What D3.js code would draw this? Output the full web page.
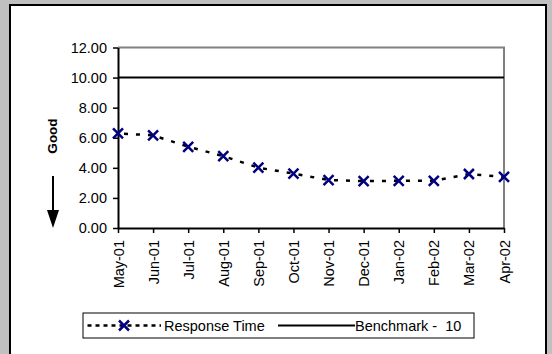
<!DOCTYPE html>
<html><head><meta charset="utf-8">
<script src="https://cdn.jsdelivr.net/npm/d3@7"></script>
<style>
html,body{margin:0;padding:0;background:#c0c0c0;}
svg{display:block;font-family:Arial,"Liberation Sans",sans-serif;}
</style></head>
<body>
<svg id="chart" width="552" height="354"></svg>
<script>
const months = ["May-01","Jun-01","Jul-01","Aug-01","Sep-01","Oct-01","Nov-01","Dec-01","Jan-02","Feb-02","Mar-02","Apr-02"];
const responseTime = [6.29,6.16,5.40,4.78,4.01,3.62,3.19,3.12,3.14,3.14,3.59,3.40];
const benchmark = [10,10,10,10,10,10,10,10,10,10,10,10];
const yTicks = [0,2,4,6,8,10,12];
const seriesNames = ["Response Time","Benchmark -  10"];
const axisTitle = "Good";

const FONT = "Arial, 'Liberation Sans', sans-serif";
const svg = d3.select("#chart");
svg.append("rect").attr("x",0).attr("y",0).attr("width",552).attr("height",354).attr("fill","#c0c0c0");
svg.append("rect").attr("x",10).attr("y",5).attr("width",536).attr("height",360)
  .attr("fill","#fff").attr("stroke","#000").attr("stroke-width",2);

const L=118,R=504,T=47.5,B=228;
const x = d3.scalePoint().domain(months).range([L,R]).padding(0);
const y = d3.scaleLinear().domain([0,12]).range([B,T]);

svg.append("path").attr("d",`M${L},${T}H${R}V${B}`).attr("fill","none").attr("stroke","#808080").attr("stroke-width",2);

svg.append("path").datum(benchmark)
  .attr("d",d3.line().x((d,i)=>x(months[i])).y(d=>y(d)))
  .attr("fill","none").attr("stroke","#000").attr("stroke-width",2);

const ya = svg.append("g").attr("transform",`translate(${L},0)`)
  .call(d3.axisLeft(y).tickValues(yTicks).tickFormat(d3.format(".2f")).tickSize(5).tickSizeOuter(0).tickPadding(6));
ya.select(".domain").attr("stroke","#000").attr("stroke-width",2);
ya.selectAll(".tick line").attr("stroke","#000").attr("stroke-width",1.5);
ya.selectAll("text").attr("font-size",14.5).attr("fill","#000").attr("font-family",FONT);

const xa = svg.append("g").attr("transform",`translate(0,${B})`)
  .call(d3.axisBottom(x).tickSize(5).tickSizeOuter(0));
xa.select(".domain").attr("stroke","#000").attr("stroke-width",2);
xa.selectAll(".tick line").attr("stroke","#000").attr("stroke-width",1.5);
xa.selectAll("text").attr("font-size",14.5).attr("fill","#000").attr("font-family",FONT)
  .attr("transform","rotate(-90)").attr("x",-12).attr("y",0).attr("dy","0.35em").style("text-anchor","end");

svg.append("path").datum(responseTime)
  .attr("d",d3.line().x((d,i)=>x(months[i])).y(d=>y(d)))
  .attr("fill","none").attr("stroke","#000").attr("stroke-width",2.5).attr("stroke-dasharray","4,8").attr("stroke-dashoffset",-6);
const mk = "M-5,-5L5,5M-5,5L5,-5";
svg.append("g").selectAll("path").data(responseTime).join("path")
  .attr("transform",(d,i)=>`translate(${x(months[i])},${y(d)})`)
  .attr("d",mk).attr("stroke","#000080").attr("stroke-width",2.5).attr("fill","none");

svg.append("text").attr("transform","translate(57,136) rotate(-90)").attr("text-anchor","middle")
  .attr("font-size",13.5).attr("font-weight","bold").attr("font-family",FONT).text(axisTitle);
svg.append("line").attr("x1",53).attr("x2",53).attr("y1",176).attr("y2",212).attr("stroke","#000").attr("stroke-width",2);
svg.append("path").attr("d","M47,210L59,210L53,228Z").attr("fill","#000");

const lg = svg.append("g");
lg.append("rect").attr("x",83).attr("y",313).attr("width",391).attr("height",25).attr("fill","#fff").attr("stroke","#000").attr("stroke-width",1);
lg.append("line").attr("x1",87.5).attr("x2",161).attr("y1",325.5).attr("y2",325.5).attr("stroke","#000").attr("stroke-width",2.5).attr("stroke-dasharray","4,4");
lg.append("path").attr("transform","translate(124,325.5)").attr("d",mk).attr("stroke","#000080").attr("stroke-width",2.5);
lg.append("text").attr("x",164).attr("y",330.5).attr("font-size",14.5).attr("font-family",FONT).text(seriesNames[0]);
lg.append("line").attr("x1",278).attr("x2",355).attr("y1",325.5).attr("y2",325.5).attr("stroke","#000").attr("stroke-width",2);
lg.append("text").attr("x",355).attr("y",330.5).attr("font-size",14.5).attr("font-family",FONT).style("white-space","pre").text(seriesNames[1]);
</script>
</body></html>
